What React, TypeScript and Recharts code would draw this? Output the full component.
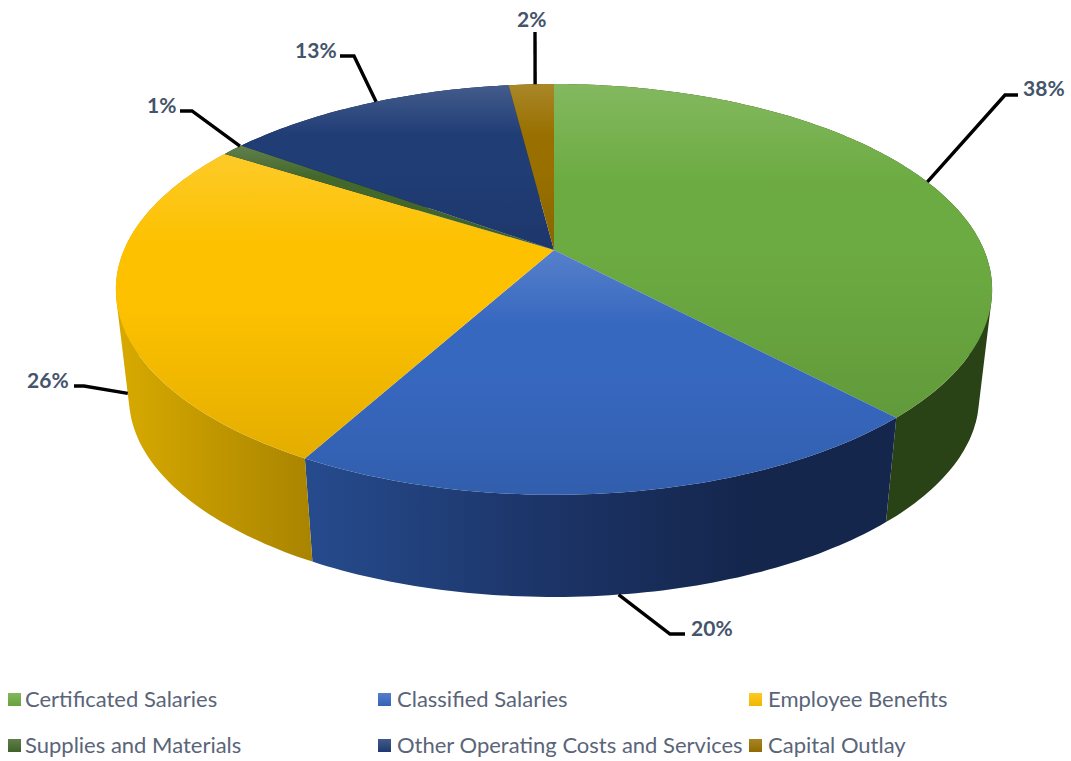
import React from "react"
import { PieChart, Pie, Legend } from "recharts"

const categories = [
  "Certificated Salaries",
  "Classified Salaries",
  "Employee Benefits",
  "Supplies and Materials",
  "Other Operating Costs and Services",
  "Capital Outlay",
]
const shares = [38, 20, 26, 1, 13, 2]
const colors = ["#6cab41", "#3768c0", "#fdc100", "#43682b", "#203d76", "#997000"]

/* ── wall shading, left to right across each slice ── */
const wallStops: [number, string][][] = [
  [[0, "#2a4316"], [1, "#2a4316"]],
  [[0, "#264b8d"], [0.45, "#1b3264"], [0.75, "#14264c"], [1, "#14264c"]],
  [[0, "#d8aa00"], [1, "#a98400"]],
  [[0, "#2a4316"], [1, "#2a4316"]],
  [[0, "#14264c"], [1, "#14264c"]],
  [[0, "#5f4600"], [1, "#5f4600"]],
]

/* ── leader elbows and label anchors, one per slice ── */
const leaders = [
  { shift: 0, wall: 0, elbow: [1005, 95], end: [1018, 95], text: [1023, 96] },
  { shift: 0, wall: 1, elbow: [670, 634], end: [685, 634], text: [691, 636] },
  { shift: 0, wall: 0.85, elbow: [84, 386], end: [74, 386], text: [27, 388] },
  { shift: 1.5, wall: 0, elbow: [192, 111], end: [180, 111], text: [147, 113] },
  { shift: 1.7, wall: 0, elbow: [354, 56], end: [340, 56], text: [295, 58] },
  { shift: 0.6, wall: 0, elbow: [535, 32], end: [535, 32], text: [517, 27] },
]

const WIDTH = 1071
const HEIGHT = 761
const CX = 554
const CY = 250
const RADIUS = 430
const TILT = 0.46
const PERSPECTIVE = 0.192
const BASE_SCALE = 0.97
const BASE_CY = 359.5

// circle on the table top seen in perspective: near edge bulges, far edge shrinks
function project(angle: number, cx: number, radius: number, scale = 1, cy = CY) {
  const t = ((90 - angle) * Math.PI) / 180
  const u = Math.sin(t)
  const v = -Math.cos(t)
  const w = 1 - PERSPECTIVE * v
  return [cx + (scale * radius * u) / w, cy + (scale * TILT * radius * v) / w]
}

function arcPoints(start: number, end: number, cx: number, radius: number, scale = 1, cy = CY) {
  const steps = Math.max(2, Math.ceil(Math.abs(end - start)))
  const pts: number[][] = []
  for (let i = 0; i <= steps; i++) {
    pts.push(project(start + ((end - start) * i) / steps, cx, radius, scale, cy))
  }
  return pts
}

const toPath = (pts: number[][]) => "M" + pts.map((p) => `${p[0].toFixed(1)},${p[1].toFixed(1)}`).join("L") + "Z"

function FaceSector({ cx, outerRadius, startAngle, endAngle, fill }: any) {
  const d = toPath([[cx, CY], ...arcPoints(startAngle, endAngle, cx, outerRadius)])
  return (
    <g>
      <path d={d} fill={fill} />
      <path d={d} fill="url(#faceSheen)" />
    </g>
  )
}

// wall is a strip of quads so the silhouette runs straight between the two rims
function WallSector({ cx, outerRadius, startAngle, endAngle, index }: any) {
  const top = arcPoints(startAngle, endAngle, cx, outerRadius)
  const base = arcPoints(startAngle, endAngle, cx, outerRadius, BASE_SCALE, BASE_CY)
  let d = ""
  for (let i = 0; i < top.length - 1; i++) {
    const quad = [top[i], top[i + 1], base[i + 1], base[i]]
    let area = 0
    quad.forEach((p, j) => {
      const q = quad[(j + 1) % 4]
      area += p[0] * q[1] - q[0] * p[1]
    })
    d += toPath(area < 0 ? quad.reverse() : quad)
  }
  return <path d={d} fill={`url(#wall-${index})`} />
}

function SliceLabel({ cx, outerRadius, midAngle, percent, index }: any) {
  const { shift, wall, elbow, end, text } = leaders[index]
  const angle = midAngle - shift
  const a = project(angle, cx, outerRadius)
  const b = project(angle, cx, outerRadius, BASE_SCALE, BASE_CY)
  const x0 = a[0] + (b[0] - a[0]) * wall
  const y0 = a[1] + (b[1] - a[1]) * wall
  return (
    <g>
      <polyline
        points={`${x0},${y0} ${elbow[0]},${elbow[1]} ${end[0]},${end[1]}`}
        fill="none"
        stroke="#000"
        strokeWidth={3.4}
      />
      <text x={text[0]} y={text[1]} fontFamily="Lato" fontWeight={700} fontSize={21} fill="#44546a">
        {Math.round(percent * 100)}%
      </text>
    </g>
  )
}

function LegendGrid({ payload }: any) {
  const items = (payload || []).filter((item: any) => item.type !== "none").slice(0, categories.length)
  return (
    <div style={{ position: "relative", height: 80 }}>
      {items.map((item: any, i: number) => (
        <div
          key={item.value}
          style={{
            position: "absolute",
            left: [8, 378, 749][i % 3],
            top: i < 3 ? 0 : 46,
            display: "flex",
            alignItems: "center",
            whiteSpace: "nowrap",
            fontFamily: "Lato",
            fontSize: 22,
            lineHeight: "26px",
            color: "#5a6579",
          }}
        >
          <span
            style={{
              width: 13,
              height: 13,
              marginRight: i % 3 === 0 ? 4 : 6,
              background: `linear-gradient(rgba(255,255,255,.15), rgba(0,0,0,.05)), ${item.color}`,
            }}
          />
          {item.value}
        </div>
      ))}
    </div>
  )
}

export default function App() {
  const rows = categories.map((name, i) => ({ name, value: shares[i], fill: colors[i] }))
  return (
    <div style={{ position: "absolute", left: 0, top: 0, width: WIDTH, height: HEIGHT, background: "#fff" }}>
      <PieChart width={WIDTH} height={HEIGHT} margin={{ top: 0, right: 0, bottom: 0, left: 0 }}>
        <defs>
          <linearGradient id="faceSheen" x1="0" y1="0" x2="0" y2="1">
            <stop offset="0" stopColor="#fff" stopOpacity={0.16} />
            <stop offset="0.3" stopColor="#fff" stopOpacity={0} />
            <stop offset="0.5" stopColor="#000" stopOpacity={0} />
            <stop offset="1" stopColor="#000" stopOpacity={0.1} />
          </linearGradient>
          {wallStops.map((stops, i) => (
            <linearGradient key={i} id={`wall-${i}`} x1="0" y1="0" x2="1" y2="0">
              {stops.map(([offset, color]) => (
                <stop key={offset} offset={offset} stopColor={color} />
              ))}
            </linearGradient>
          ))}
        </defs>
        <Pie
          data={rows}
          dataKey="value"
          nameKey="name"
          cx={CX}
          cy={CY}
          outerRadius={RADIUS}
          startAngle={90}
          endAngle={-270}
          stroke="none"
          legendType="none"
          shape={WallSector}
          isAnimationActive={false}
        />
        <Pie
          data={rows}
          dataKey="value"
          nameKey="name"
          cx={CX}
          cy={CY}
          outerRadius={RADIUS}
          startAngle={90}
          endAngle={-270}
          stroke="none"
          legendType="square"
          shape={FaceSector}
          label={SliceLabel}
          labelLine={false}
          isAnimationActive={false}
        />
        <Legend
          content={LegendGrid}
          itemSorter={null}
          wrapperStyle={{ position: "absolute", left: 0, top: 686, width: WIDTH, bottom: "auto" }}
        />
      </PieChart>
    </div>
  )
}
